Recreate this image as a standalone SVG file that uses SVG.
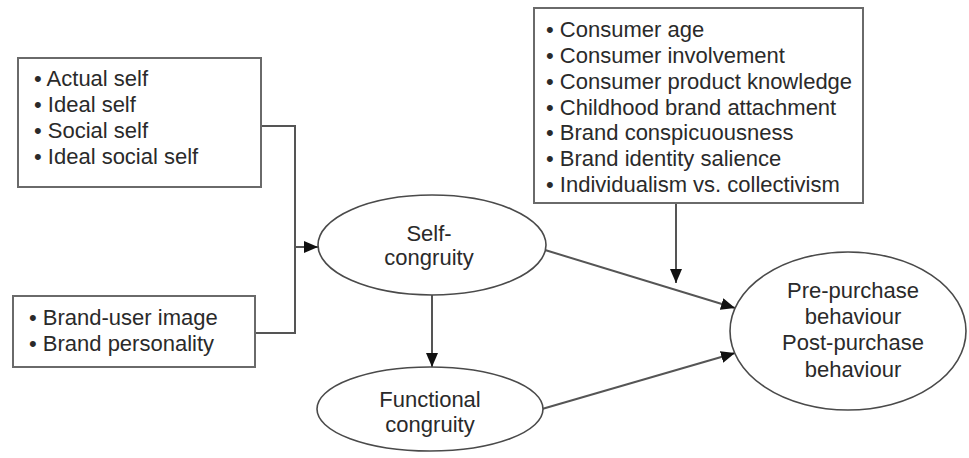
<svg xmlns="http://www.w3.org/2000/svg" width="969" height="458" viewBox="0 0 969 458">
  <style>
    .box { fill: #fff; stroke: #6a6a6a; stroke-width: 2; }
    .node { fill: #fff; stroke: #4a4a4a; stroke-width: 1.6; }
    .label { font-family: "Liberation Sans", Arial, sans-serif; font-size: 22px; fill: #2a2a2a; }
    .mid { text-anchor: middle; }
    .wire { fill: none; stroke: #555; stroke-width: 2; }
  </style>
  <defs>
    <marker id="arrow" markerUnits="userSpaceOnUse" markerWidth="14" markerHeight="12" refX="14" refY="6" orient="auto">
      <path d="M0,0 L14,6 L0,12 Z" fill="#111"/>
    </marker>
  </defs>
  <rect width="969" height="458" fill="#fff"/>

  <!-- Connectors -->
  <g id="connectors">
    <polyline class="wire" points="261,126 295,126 295,333 255,333"/>
    <line class="wire" x1="295" y1="247" x2="318" y2="247" marker-end="url(#arrow)"/>
    <line class="wire" x1="676" y1="203" x2="676" y2="283" marker-end="url(#arrow)"/>
    <line class="wire" x1="545" y1="250" x2="735" y2="308" marker-end="url(#arrow)"/>
    <line class="wire" x1="432" y1="295" x2="432" y2="367" marker-end="url(#arrow)"/>
    <line class="wire" x1="542" y1="409" x2="735" y2="353" marker-end="url(#arrow)"/>
  </g>

  <!-- Self-concept types -->
  <g id="self-types">
    <rect class="box" x="18" y="58" width="243" height="129"/>
    <text class="label" x="34" y="86">• Actual self</text>
    <text class="label" x="34" y="112">• Ideal self</text>
    <text class="label" x="34" y="138">• Social self</text>
    <text class="label" x="34" y="164">• Ideal social self</text>
  </g>

  <!-- Brand image -->
  <g id="brand-image">
    <rect class="box" x="13" y="296" width="242" height="71"/>
    <text class="label" x="29" y="325">• Brand-user image</text>
    <text class="label" x="29" y="351">• Brand personality</text>
  </g>

  <!-- Moderators -->
  <g id="moderators">
    <rect class="box" x="534" y="8" width="329" height="195"/>
    <text class="label" x="546" y="37">• Consumer age</text>
    <text class="label" x="546" y="63">• Consumer involvement</text>
    <text class="label" x="546" y="89">• Consumer product knowledge</text>
    <text class="label" x="546" y="115">• Childhood brand attachment</text>
    <text class="label" x="546" y="140">• Brand conspicuousness</text>
    <text class="label" x="546" y="166">• Brand identity salience</text>
    <text class="label" x="546" y="192">• Individualism vs. collectivism</text>
  </g>

  <!-- Self-congruity -->
  <g id="self-congruity">
    <ellipse class="node" cx="432" cy="245" rx="114" ry="50"/>
    <text class="label mid" x="429" y="241">Self-</text>
    <text class="label mid" x="429" y="265">congruity</text>
  </g>

  <!-- Functional congruity -->
  <g id="functional-congruity">
    <ellipse class="node" cx="430" cy="409" rx="113" ry="42"/>
    <text class="label mid" x="430" y="407">Functional</text>
    <text class="label mid" x="430" y="432">congruity</text>
  </g>

  <!-- Consumer behaviour -->
  <g id="behaviour">
    <ellipse class="node" cx="848" cy="331" rx="118" ry="79"/>
    <text class="label mid" x="853" y="298">Pre-purchase</text>
    <text class="label mid" x="853" y="324">behaviour</text>
    <text class="label mid" x="853" y="350">Post-purchase</text>
    <text class="label mid" x="853" y="377">behaviour</text>
  </g>
</svg>
